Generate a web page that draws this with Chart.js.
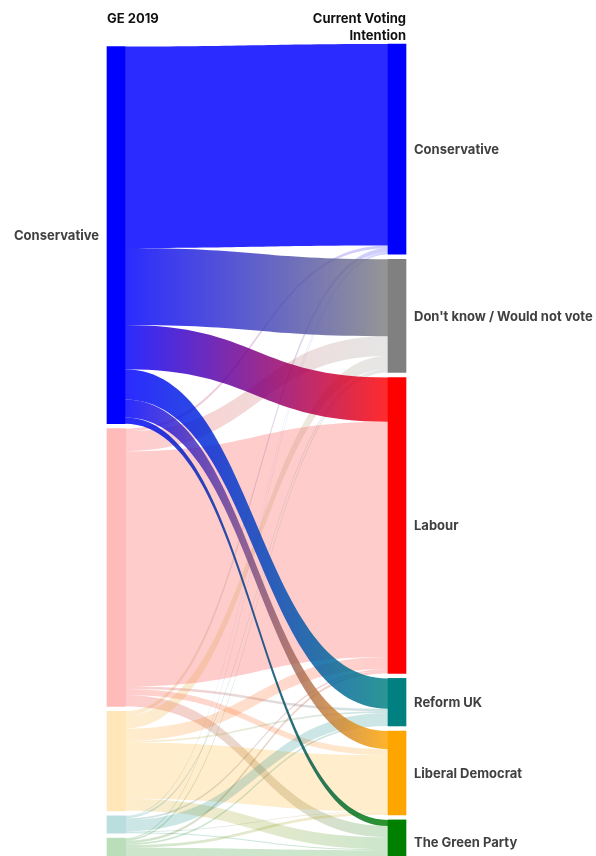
<!DOCTYPE html>
<html>
<head>
<meta charset="utf-8">
<script src="https://cdn.jsdelivr.net/npm/chart.js@4.4.1/dist/chart.umd.min.js"></script>
<style>
  html, body { margin: 0; padding: 0; background: #fff; overflow: hidden; }
  #sankey { display: block; }
</style>
</head>
<body>
<canvas id="sankey" width="596" height="856"></canvas>
<script>
// GE 2019 vote (left) -> current voting intention (right), % of respondents
const sourceParties = ['Conservative', 'Labour', 'Liberal Democrat', 'Brexit Party', 'The Green Party'];
const targetParties = ['Conservative', "Don't know / Would not vote", 'Labour', 'Reform UK', 'Liberal Democrat', 'The Green Party'];

// where each 2019 party's voters are now, in the order of targetParties
const fromConservative = [23.3, 8.9, 5.1, 3.5, 2.1, 0.7];
const fromLabour = [0.3, 2.3, 27.2, 0.3, 0.7, 1.3];
const fromLibDem = [0.5, 1.5, 1.4, 0.2, 6.5, 1.4];
const fromBrexit = [0.1, 0.2, 0.2, 1.3, 0.1, 0.1];
const fromGreen = [0.1, 0.2, 0.3, 0.2, 0.3, 1.6];

const flows = [fromConservative, fromLabour, fromLibDem, fromBrexit, fromGreen];

const sourceColours = ['#0000ff', '#ff0000', '#ffa500', '#008080', '#008000'];
const targetColours = ['#0000ff', '#808080', '#ff0000', '#008080', '#ffa500', '#008000'];
const highlighted = 0; // 2019 Conservative voters are picked out

const NODE_GAP = 0.58;
const NODE_WIDTH = 18;
const PX_PER_POINT = 8.65;
const FONT = "'Inter', 'Noto Sans', sans-serif";

function fade(hex, a) {
    const n = parseInt(hex.slice(1), 16);
    return `rgba(${(n >> 16) & 255}, ${(n >> 8) & 255}, ${n & 255}, ${a})`;
}

const sum = arr => arr.reduce((s, v) => s + v, 0);
const sourceTotals = flows.map(sum);
const targetTotals = targetParties.map((_, j) => sum(flows.map(row => row[j])));

function stack(totals, start) {
    let y = start;
    return totals.map(t => {
        const node = { start: y, end: y + t };
        y += t + NODE_GAP;
        return node;
    });
}

const leftHeight = sum(sourceTotals) + NODE_GAP * (sourceTotals.length - 1);
const rightHeight = sum(targetTotals) + NODE_GAP * (targetTotals.length - 1);
const targetNodes = stack(targetTotals, 0);
const sourceNodes = stack(sourceTotals, (rightHeight - leftHeight) / 2);

// link offsets: outgoing in target order, incoming in source order
const links = [];
const outOffset = sourceNodes.map(n => n.start);
const inOffset = targetNodes.map(n => n.start);
flows.forEach((row, i) => row.forEach((v, j) => {
    links.push({ i, j, v, s: outOffset[i], t: inOffset[j] });
    outOffset[i] += v;
    inOffset[j] += v;
}));

const nodeBars = [
    ...sourceNodes.map(n => ({ x: 0, y: [n.start, n.end] })),
    ...targetNodes.map(n => ({ x: 1, y: [n.start, n.end] }))
];
const nodeFill = [
    ...sourceColours.map((c, i) => i === highlighted ? c : fade(c, 0.27)),
    ...targetColours
];

const flowPlugin = {
    id: 'flows',
    beforeDatasetsDraw(chart) {
        const { ctx, scales: { x, y } } = chart;
        const x0 = x.getPixelForValue(0) + NODE_WIDTH / 2;
        const x1 = x.getPixelForValue(1) - NODE_WIDTH / 2;
        const xm = (x0 + x1) / 2;
        const ordered = [...links.filter(l => l.i !== highlighted), ...links.filter(l => l.i === highlighted)];

        ctx.save();
        ordered.forEach(l => {
            if (l.v <= 0) return;
            const a = l.i === highlighted ? 0.83 : 0.2;
            const g = ctx.createLinearGradient(x0, 0, x1, 0);
            g.addColorStop(0, fade(sourceColours[l.i], a));
            g.addColorStop(1, fade(targetColours[l.j], a));
            const sy0 = y.getPixelForValue(l.s), sy1 = y.getPixelForValue(l.s + l.v);
            const ty0 = y.getPixelForValue(l.t), ty1 = y.getPixelForValue(l.t + l.v);
            ctx.beginPath();
            ctx.moveTo(x0, sy0);
            ctx.bezierCurveTo(xm, sy0, xm, ty0, x1, ty0);
            ctx.lineTo(x1, ty1);
            ctx.bezierCurveTo(xm, ty1, xm, sy1, x0, sy1);
            ctx.closePath();
            ctx.fillStyle = g;
            ctx.fill();
        });
        ctx.restore();
    }
};

const labelPlugin = {
    id: 'labels',
    afterDraw(chart) {
        const { ctx, scales: { x, y } } = chart;
        const left = x.getPixelForValue(0) - NODE_WIDTH / 2;
        const right = x.getPixelForValue(1) + NODE_WIDTH / 2;

        ctx.save();
        ctx.font = `bold 13px ${FONT}`;
        ctx.fillStyle = '#111';
        ctx.textBaseline = 'alphabetic';
        ctx.textAlign = 'left';
        ctx.fillText('GE 2019', left, 23);
        ctx.textAlign = 'right';
        ctx.fillText('Current Voting', right, 23);
        ctx.fillText('Intention', right, 40);

        ctx.fillStyle = '#404040';
        ctx.textBaseline = 'middle';
        const src = sourceNodes[highlighted];
        ctx.textAlign = 'right';
        ctx.fillText(sourceParties[highlighted], left - 8, y.getPixelForValue((src.start + src.end) / 2) + 1);
        ctx.textAlign = 'left';
        targetNodes.forEach((n, j) => {
            ctx.fillText(targetParties[j], right + 8, y.getPixelForValue((n.start + n.end) / 2) + 1);
        });
        ctx.restore();
    }
};

new Chart(document.getElementById('sankey'), {
    type: 'bar',
    data: {
        datasets: [{
            data: nodeBars,
            backgroundColor: nodeFill,
            borderWidth: 0,
            barThickness: NODE_WIDTH,
            clip: false
        }]
    },
    options: {
        responsive: false,
        animation: false,
        events: [],
        layout: { padding: { left: 116, right: 199, top: 44, bottom: 0 } },
        plugins: {
            legend: { display: false },
            tooltip: { enabled: false }
        },
        scales: {
            x: { type: 'linear', min: 0, max: 1, offset: false, display: false },
            y: { type: 'linear', min: 0, max: 812 / PX_PER_POINT, reverse: true, display: false }
        }
    },
    plugins: [flowPlugin, labelPlugin]
});
</script>
</body>
</html>
